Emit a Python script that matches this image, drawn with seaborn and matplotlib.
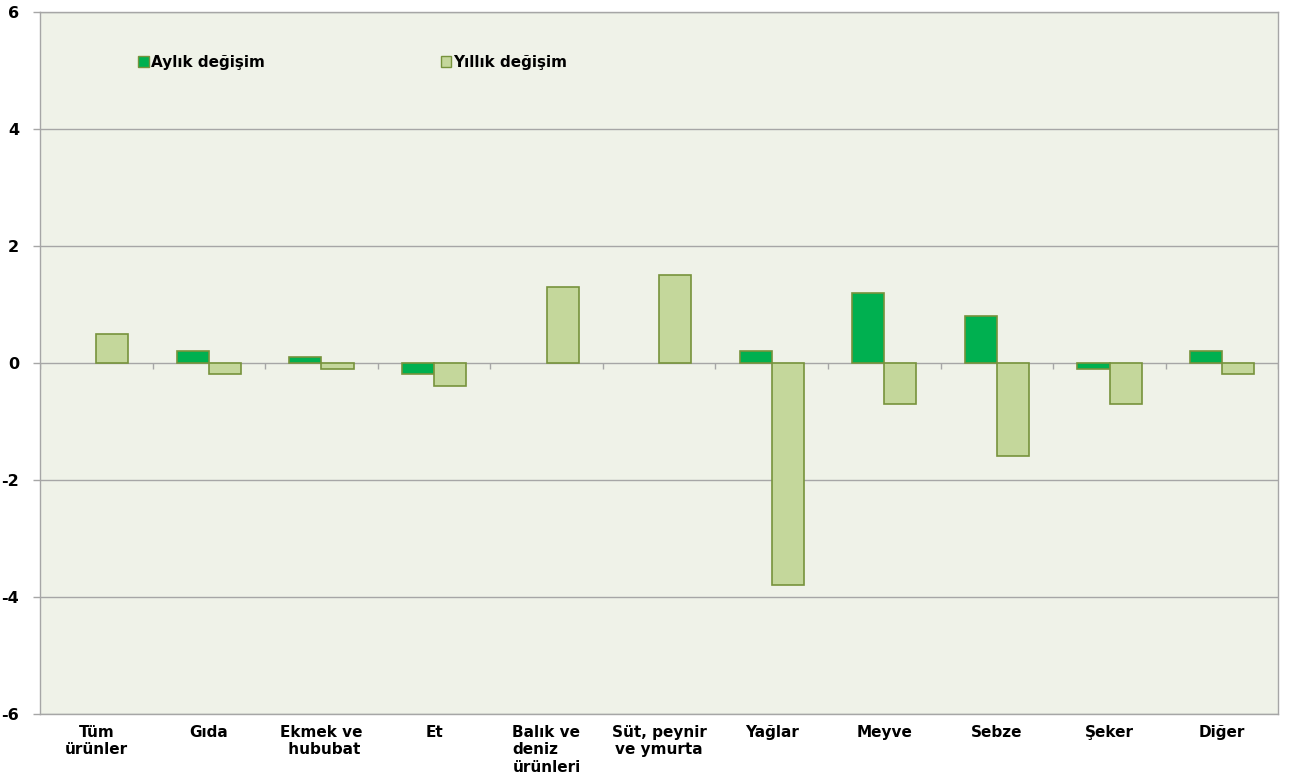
import numpy as np
import pandas as pd
import matplotlib
matplotlib.use('Agg')
import matplotlib.pyplot as plt
import seaborn as sns

# veriler
kategoriler = ['Tüm\nürünler', 'Gıda', 'Ekmek ve\n hububat', 'Et', 'Balık ve\ndeniz\nürünleri',
               'Süt, peynir\nve ymurta', 'Yağlar', 'Meyve', 'Sebze', 'Şeker', 'Diğer']
aylik = [0.0, 0.2, 0.1, -0.2, 0.0, 0.0, 0.2, 1.2, 0.8, -0.1, 0.2]
yillik = [0.5, -0.2, -0.1, -0.4, 1.3, 1.5, -3.8, -0.7, -1.6, -0.7, -0.2]
seriler = ['Aylık değişim', 'Yıllık değişim']
yticks = [-6, -4, -2, 0, 2, 4, 6]

df = pd.DataFrame({
    'kategori': kategoriler * 2,
    'deger': aylik + yillik,
    'seri': [seriler[0]] * len(kategoriler) + [seriler[1]] * len(kategoriler),
})

sns.set_style('white')
plt.rcParams['font.family'] = ['DejaVu Sans']

fig = plt.figure(figsize=(12.9, 7.76), dpi=100)
ax = fig.add_axes([0.031, 0.080, 0.960, 0.905])
ax.set_facecolor('#EFF2E8')

sns.barplot(data=df, x='kategori', y='deger', hue='seri', hue_order=seriler,
            palette=['#00B050', '#C4D79B'], saturation=1, width=0.57,
            edgecolor='#77933C', linewidth=1.2, ax=ax, zorder=3)

# sıfır yükseklikli çubukların kenarını gizle
for p in ax.patches:
    if abs(p.get_height()) < 1e-9:
        p.set_linewidth(0)

ax.set_ylim(-6, 6)
ax.set_xlim(-0.5, len(kategoriler) - 0.5)
ax.set_yticks(yticks)
ax.set_yticklabels([str(t) for t in yticks], fontweight='bold', fontsize=11.5, color='black')
for t in yticks:
    ax.axhline(t, color='#A6A6A6', linewidth=1, zorder=1)

# kategori sınır işaretleri (sıfır çizgisinde)
sinirlar = np.arange(len(kategoriler) + 1) - 0.5
ax.vlines(sinirlar, -0.1, 0, color='#A6A6A6', linewidth=1, zorder=2)

ax.set_xticks(range(len(kategoriler)))
ax.set_xticklabels(kategoriler, fontweight='bold', fontsize=11, va='top', color='black')
for lbl in ax.get_xticklabels():
    lbl.set_multialignment('left' if lbl.get_text().startswith('Balık') else 'center')
ax.tick_params(axis='x', length=0, pad=8)
ax.tick_params(axis='y', length=5, width=1, color='#A6A6A6', left=True, pad=10)
ax.set_xlabel('')
ax.set_ylabel('')

for s in ax.spines.values():
    s.set_color('#A6A6A6')
    s.set_linewidth(1)

leg = ax.legend(loc='upper left', bbox_to_anchor=(0.068, 0.958), ncol=2, frameon=False,
                handlelength=0.7, handleheight=0.7, handletextpad=0.15, columnspacing=11.5,
                prop={'weight': 'bold', 'size': 11}, labelcolor='black')
for h in leg.legend_handles:
    h.set_edgecolor('#77933C')
    h.set_linewidth(1)

fig.savefig('out.png', dpi=100)
